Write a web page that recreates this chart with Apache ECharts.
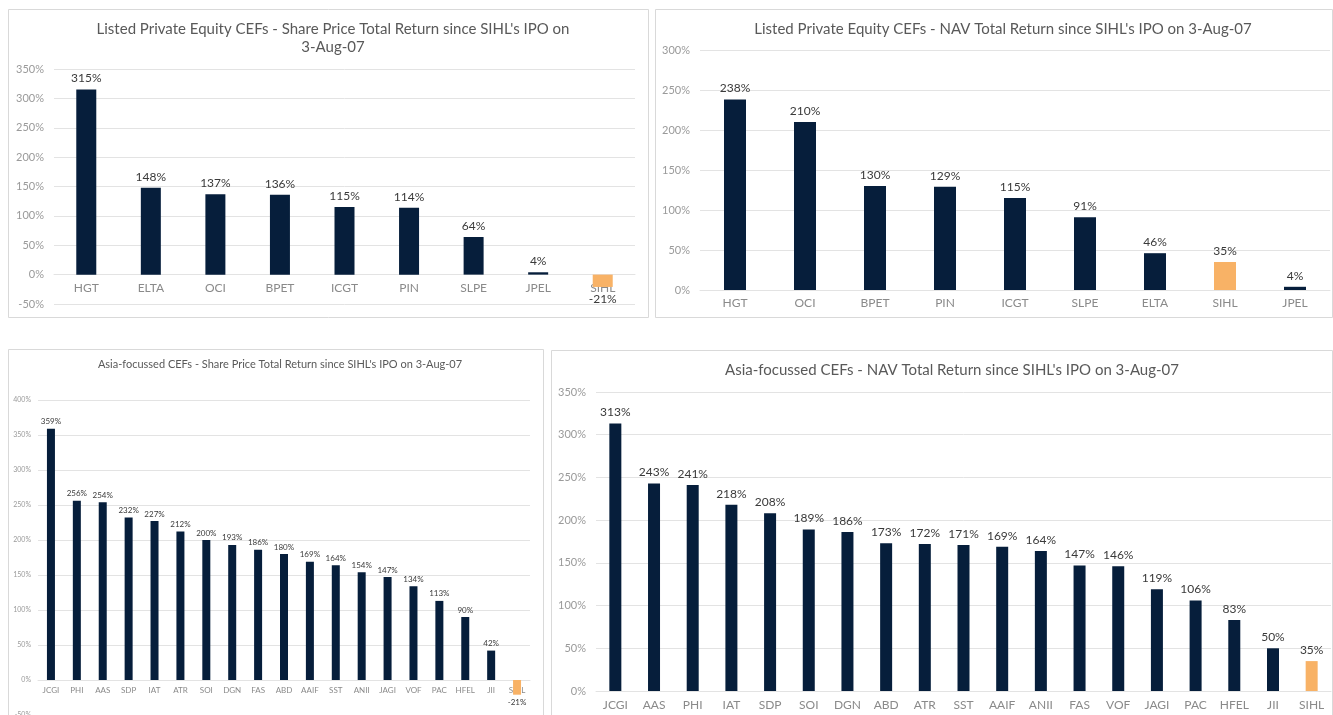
<!DOCTYPE html>
<html>
<head>
<meta charset="utf-8">
<script src="https://cdn.jsdelivr.net/npm/echarts@6/dist/echarts.min.js"></script>
<style>
html,body{margin:0;padding:0;background:#fff;}
#c{width:1333px;height:715px;}
</style>
</head>
<body>
<div id="c"></div>
<script>
// ---- data ----
const lpeSpTitle = "Listed Private Equity CEFs - Share Price Total Return since SIHL's IPO on\n3-Aug-07";
const lpeSpCats = ["HGT","ELTA","OCI","BPET","ICGT","PIN","SLPE","JPEL","SIHL"];
const lpeSpVals = [315,148,137,136,115,114,64,4,-21];

const lpeNavTitle = "Listed Private Equity CEFs - NAV Total Return since SIHL's IPO on 3-Aug-07";
const lpeNavCats = ["HGT","OCI","BPET","PIN","ICGT","SLPE","ELTA","SIHL","JPEL"];
const lpeNavVals = [238,210,130,129,115,91,46,35,4];

const asiaSpTitle = "Asia-focussed CEFs - Share Price Total Return since SIHL's IPO on 3-Aug-07";
const asiaSpCats = ["JCGI","PHI","AAS","SDP","IAT","ATR","SOI","DGN","FAS","ABD","AAIF","SST","ANII","JAGI","VOF","PAC","HFEL","JII","SIHL"];
const asiaSpVals = [359,256,254,232,227,212,200,193,186,180,169,164,154,147,134,113,90,42,-21];

const asiaNavTitle = "Asia-focussed CEFs - NAV Total Return since SIHL's IPO on 3-Aug-07";
const asiaNavCats = ["JCGI","AAS","PHI","IAT","SDP","SOI","DGN","ABD","ATR","SST","AAIF","ANII","FAS","VOF","JAGI","PAC","HFEL","JII","SIHL"];
const asiaNavVals = [313,243,241,218,208,189,186,173,172,171,169,164,147,146,119,106,83,50,35];

// ---- style ----
const NAVY = '#061e3b';
const ORANGE = '#f8b266';
const FONT = 'Lato, "Noto Sans", sans-serif';
const GRID_C = '#e3e3e3';
const AXIS_TXT = '#8a8a8a';
const LABEL_TXT = '#3a3a3a';

function mkData(cats, vals, dist) {
  return vals.map((v, i) => {
    const item = { value: v, itemStyle: { color: cats[i] === 'SIHL' ? ORANGE : NAVY } };
    if (v < 0) item.label = { position: 'bottom', distance: dist };
    return item;
  });
}

const panels = [
  { title: lpeSpTitle, cats: lpeSpCats, vals: lpeSpVals, min: -50, max: 350,
    grid: { left: 54, right: 698, top: 69, bottom: 411 }, bw: 20, zeroOff: -(304 - 69) / 8,
    tx: 328, ty: 15, tfs: 15, tlh: 18, yfs: 11, xfs: 12, lfs: 12, ld: 5, nd: 6, ym: 10, xm: 7 },
  { title: lpeNavTitle, cats: lpeNavCats, vals: lpeNavVals, min: 0, max: 300,
    grid: { left: 700, right: 3, top: 50, bottom: 425 }, bw: 22, zeroOff: 0,
    tx: 998, ty: 15, tfs: 15, tlh: 18, yfs: 11, xfs: 12, lfs: 12, ld: 5, nd: 6, ym: 10, xm: 7 },
  { title: asiaSpTitle, cats: asiaSpCats, vals: asiaSpVals, min: -50, max: 400,
    grid: { left: 38, right: 803, top: 400, bottom: 0 }, bw: 8, zeroOff: -35,
    tx: 275, ty: 353, tfs: 11, tlh: 13, yfs: 7, xfs: 8, lfs: 8, ld: 3, nd: 4, ym: 7, xm: 6 },
  { title: asiaNavTitle, cats: asiaNavCats, vals: asiaNavVals, min: 0, max: 350,
    grid: { left: 596, right: 2, top: 392, bottom: 24 }, bw: 12, zeroOff: 0,
    tx: 947, ty: 356, tfs: 15, tlh: 18, yfs: 11, xfs: 12, lfs: 12, ld: 5, nd: 6, ym: 10, xm: 8 }
];

const option = {
  animation: false,
  backgroundColor: '#fff',
  title: panels.map(p => ({
    text: p.title, left: p.tx, top: p.ty, textAlign: 'center',
    textStyle: { fontFamily: FONT, fontWeight: 'normal', fontSize: p.tfs, lineHeight: p.tlh, color: '#595959' }
  })),
  graphic: [
    { type: 'rect', shape: { x: 8.5, y: 9.5, width: 640, height: 308 }, style: { fill: 'none', stroke: '#d9d9d9', lineWidth: 1 }, z: -1 },
    { type: 'rect', shape: { x: 655.5, y: 9.5, width: 677, height: 308 }, style: { fill: 'none', stroke: '#d9d9d9', lineWidth: 1 }, z: -1 },
    { type: 'rect', shape: { x: 8.5, y: 349.5, width: 535, height: 380 }, style: { fill: 'none', stroke: '#d9d9d9', lineWidth: 1 }, z: -1 },
    { type: 'rect', shape: { x: 551.5, y: 350.5, width: 781, height: 380 }, style: { fill: 'none', stroke: '#d9d9d9', lineWidth: 1 }, z: -1 }
  ],
  grid: panels.map(p => Object.assign({ containLabel: false, outerBoundsMode: 'none' }, p.grid)),
  xAxis: panels.map((p, i) => ({
    type: 'category', gridIndex: i, data: p.cats,
    offset: p.zeroOff,
    axisLine: { show: true, onZero: false, lineStyle: { color: GRID_C, width: 1 } },
    axisTick: { show: false },
    axisLabel: { interval: 0, fontFamily: FONT, fontSize: p.xfs, color: AXIS_TXT, margin: p.xm }
  })),
  yAxis: panels.map((p, i) => ({
    type: 'value', gridIndex: i, min: p.min, max: p.max, interval: 50,
    axisLine: { show: false }, axisTick: { show: false },
    splitLine: { show: true, lineStyle: { color: GRID_C, width: 1 } },
    axisLabel: { formatter: '{value}%', fontFamily: FONT, fontSize: p.yfs, color: '#9a9a9a', margin: p.ym }
  })),
  series: panels.map((p, i) => ({
    type: 'bar', xAxisIndex: i, yAxisIndex: i, barWidth: p.bw,
    data: mkData(p.cats, p.vals, p.nd),
    label: { show: true, position: 'top', distance: p.ld, formatter: '{c}%',
      fontFamily: FONT, fontSize: p.lfs, color: LABEL_TXT }
  }))
};

const chart = echarts.init(document.getElementById('c'), null, { renderer: 'canvas' });
chart.setOption(option);
</script>
</body>
</html>
